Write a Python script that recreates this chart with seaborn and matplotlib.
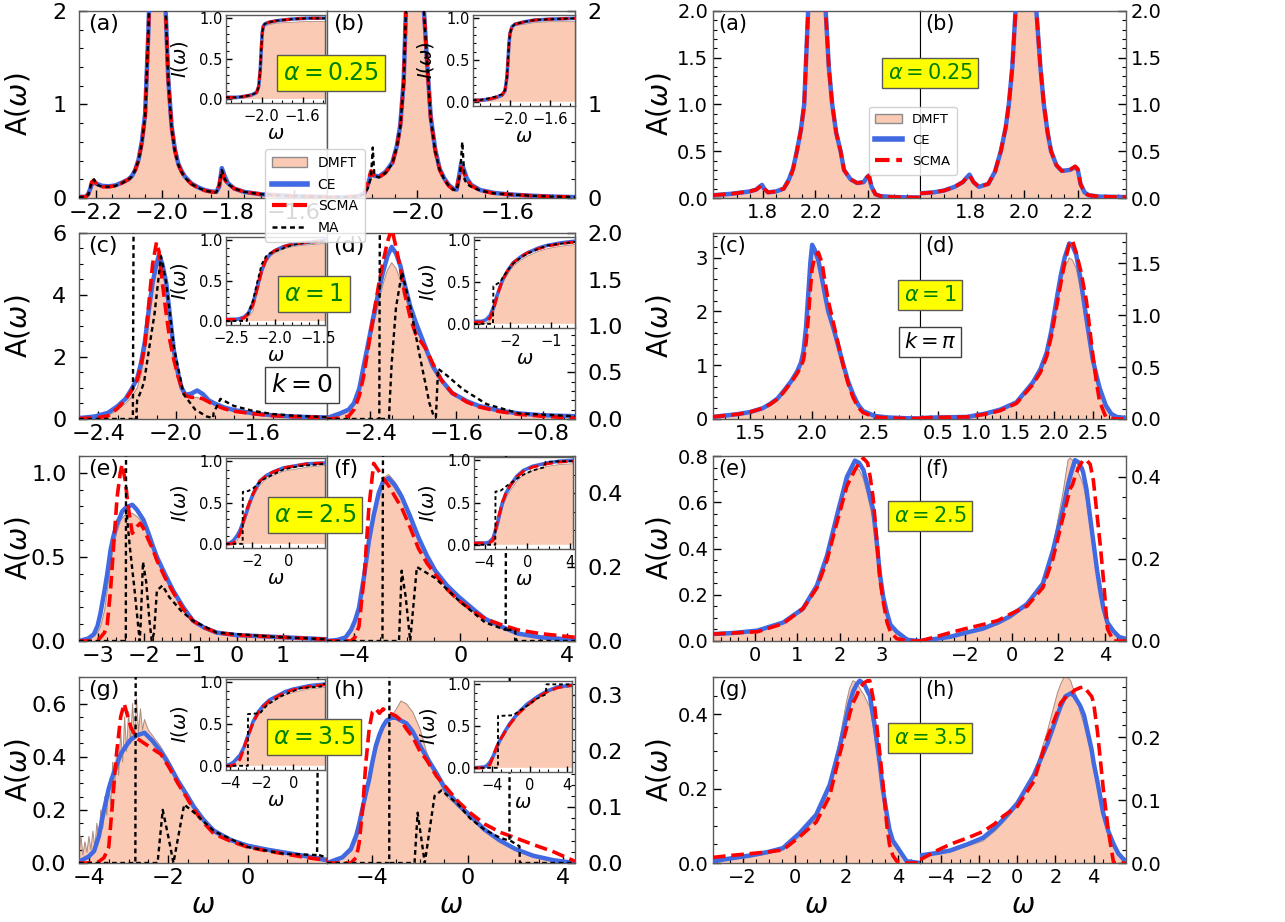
import matplotlib
matplotlib.use("Agg")
import matplotlib.pyplot as plt
import seaborn as sns
from matplotlib.ticker import AutoMinorLocator
from matplotlib.patches import Patch
from matplotlib.lines import Line2D

plt.rcParams["font.family"] = ["DejaVu Sans"]
plt.rcParams["mathtext.fontset"] = "dejavusans"

# ---------------------------------------------------------------- data: k = 0 block (left)
LA_x = [-2.25, -2.23, -2.222, -2.212, -2.205, -2.195, -2.18, -2.16, -2.14, -2.12, -2.1, -2.09, -2.08, -2.07, -2.06, -2.05, -2.04, -2.03, -2.02, -2.01, -2.0, -1.99, -1.98, -1.97, -1.96, -1.95, -1.94, -1.93, -1.91, -1.89, -1.87, -1.85, -1.835, -1.826, -1.818, -1.81, -1.8, -1.78, -1.75, -1.7, -1.65, -1.6, -1.55, -1.5]
LA_dmft = [0.01, 0.012, 0.03, 0.15, 0.18, 0.14, 0.12, 0.12, 0.13, 0.16, 0.2, 0.23, 0.3, 0.4, 0.58, 0.87, 1.8, 3.0, 4.5, 5.0, 3.8, 2.2, 1.25, 0.75, 0.5, 0.36, 0.28, 0.22, 0.15, 0.11, 0.08, 0.065, 0.06, 0.12, 0.3, 0.22, 0.15, 0.1, 0.065, 0.04, 0.03, 0.02, 0.015, 0.012]
LA_ce = [0.012, 0.014, 0.04, 0.14, 0.17, 0.15, 0.13, 0.125, 0.135, 0.165, 0.2, 0.235, 0.3, 0.41, 0.6, 0.9, 1.8, 3.0, 4.5, 5.0, 3.8, 2.2, 1.27, 0.77, 0.52, 0.37, 0.29, 0.23, 0.155, 0.115, 0.085, 0.07, 0.065, 0.12, 0.32, 0.24, 0.16, 0.1, 0.065, 0.04, 0.03, 0.02, 0.015, 0.012]
LA_scma = [0.01, 0.012, 0.04, 0.17, 0.19, 0.14, 0.12, 0.12, 0.13, 0.16, 0.2, 0.23, 0.3, 0.4, 0.59, 0.88, 1.8, 3.0, 4.5, 5.0, 3.8, 2.2, 1.26, 0.76, 0.51, 0.36, 0.28, 0.22, 0.15, 0.11, 0.08, 0.065, 0.06, 0.14, 0.29, 0.2, 0.15, 0.1, 0.065, 0.04, 0.03, 0.02, 0.015, 0.012]
LA_ma = [0.01, 0.012, 0.035, 0.16, 0.2, 0.14, 0.12, 0.12, 0.13, 0.16, 0.2, 0.23, 0.3, 0.4, 0.58, 0.87, 1.8, 3.0, 4.5, 5.0, 3.8, 2.2, 1.25, 0.75, 0.5, 0.36, 0.28, 0.22, 0.15, 0.11, 0.08, 0.065, 0.06, 0.13, 0.3, 0.21, 0.15, 0.1, 0.065, 0.04, 0.03, 0.02, 0.015, 0.012]

LB_x = [-2.4, -2.3, -2.26, -2.235, -2.22, -2.205, -2.19, -2.17, -2.14, -2.11, -2.09, -2.075, -2.06, -2.05, -2.04, -2.02, -2.01, -2.0, -1.99, -1.98, -1.97, -1.955, -1.94, -1.92, -1.9, -1.88, -1.86, -1.84, -1.825, -1.815, -1.805, -1.795, -1.78, -1.76, -1.72, -1.66, -1.6, -1.5, -1.4, -1.3]
LB_dmft = [0.005, 0.01, 0.02, 0.04, 0.12, 0.27, 0.23, 0.22, 0.27, 0.37, 0.55, 0.76, 1.23, 2.0, 3.0, 5.0, 5.5, 5.0, 4.0, 3.0, 2.0, 1.4, 0.85, 0.5, 0.3, 0.2, 0.13, 0.09, 0.08, 0.2, 0.35, 0.3, 0.2, 0.13, 0.08, 0.05, 0.04, 0.025, 0.015, 0.01]
LB_ce = [0.005, 0.01, 0.02, 0.05, 0.13, 0.26, 0.24, 0.23, 0.28, 0.38, 0.56, 0.78, 1.25, 2.0, 3.0, 5.0, 5.5, 5.0, 4.0, 3.0, 2.0, 1.42, 0.87, 0.52, 0.31, 0.21, 0.14, 0.1, 0.09, 0.22, 0.37, 0.32, 0.21, 0.14, 0.085, 0.055, 0.04, 0.025, 0.015, 0.01]
LB_scma = [0.005, 0.01, 0.02, 0.05, 0.16, 0.29, 0.23, 0.22, 0.27, 0.37, 0.55, 0.76, 1.23, 2.0, 3.0, 5.0, 5.5, 5.0, 4.0, 3.0, 2.0, 1.4, 0.85, 0.5, 0.3, 0.2, 0.13, 0.09, 0.08, 0.22, 0.33, 0.28, 0.2, 0.13, 0.08, 0.05, 0.04, 0.025, 0.015, 0.01]
LB_ma_x = [-2.4, -2.3, -2.26, -2.235, -2.22, -2.205, -2.197, -2.19, -2.17, -2.14, -2.11, -2.09, -2.075, -2.06, -2.05, -2.04, -2.02, -2.01, -2.0, -1.99, -1.98, -1.97, -1.955, -1.94, -1.92, -1.9, -1.88, -1.86, -1.84, -1.825, -1.81, -1.8, -1.79, -1.78, -1.76, -1.72, -1.66, -1.6, -1.5, -1.4, -1.3]
LB_ma = [0.005, 0.01, 0.02, 0.04, 0.1, 0.22, 0.54, 0.24, 0.22, 0.27, 0.37, 0.55, 0.76, 1.23, 2.0, 3.0, 5.0, 5.5, 5.0, 4.0, 3.0, 2.0, 1.4, 0.85, 0.5, 0.3, 0.2, 0.13, 0.09, 0.08, 0.25, 0.6, 0.2, 0.15, 0.12, 0.08, 0.05, 0.04, 0.025, 0.015, 0.01]

LC_x = [-2.5, -2.42, -2.35, -2.3, -2.26, -2.23, -2.2, -2.18, -2.16, -2.14, -2.12, -2.1, -2.087, -2.07, -2.05, -2.03, -2.01, -1.99, -1.97, -1.95, -1.92, -1.89, -1.86, -1.83, -1.8, -1.75, -1.7, -1.6, -1.5, -1.4, -1.3, -1.2]
LC_ce = [0.03, 0.08, 0.2, 0.42, 0.65, 0.95, 1.3, 1.8, 2.5, 3.5, 4.4, 5.0, 5.3, 5.0, 4.4, 3.3, 2.2, 1.5, 1.0, 0.78, 0.82, 0.92, 0.8, 0.6, 0.5, 0.37, 0.29, 0.18, 0.12, 0.08, 0.06, 0.05]
LC_scma = [0.02, 0.03, 0.1, 0.35, 0.62, 0.9, 1.25, 1.7, 2.4, 3.7, 5.0, 5.7, 5.4, 4.4, 3.4, 2.5, 1.9, 1.4, 1.0, 0.75, 0.7, 0.7, 0.65, 0.55, 0.45, 0.33, 0.25, 0.17, 0.11, 0.08, 0.06, 0.05]
LC_dmft = [0.0, 0.02, 0.1, 0.3, 0.5, 0.7, 1.0, 1.4, 2.1, 3.2, 4.3, 5.0, 5.2, 4.9, 4.2, 3.1, 2.0, 1.3, 0.9, 0.7, 0.68, 0.7, 0.62, 0.52, 0.44, 0.34, 0.27, 0.17, 0.11, 0.07, 0.05, 0.04]
LC_ma_x = [-2.5, -2.222, -2.218, -2.214, -2.205, -2.2, -2.18, -2.164, -2.13, -2.11, -2.077, -2.05, -2.01, -1.96, -1.9, -1.84, -1.808, -1.805, -1.77, -1.7, -1.6, -1.5, -1.4, -1.3, -1.2]
LC_ma = [0.0, 0.0, 7.0, 0.0, 0.0, 0.6, 0.9, 1.2, 2.6, 3.4, 5.25, 4.4, 2.3, 0.8, 0.3, 0.08, 0.03, 0.2, 0.65, 0.42, 0.26, 0.16, 0.11, 0.08, 0.05]

LD_x = [-2.8, -2.68, -2.6, -2.55, -2.5, -2.46, -2.42, -2.37, -2.32, -2.28, -2.24, -2.2, -2.16, -2.12, -2.08, -2.03, -1.98, -1.94, -1.88, -1.82, -1.74, -1.64, -1.5, -1.39, -1.2, -1.02, -0.8, -0.5]
LD_ce = [0.01, 0.06, 0.1, 0.17, 0.33, 0.57, 0.8, 1.1, 1.38, 1.58, 1.75, 1.85, 1.78, 1.65, 1.45, 1.22, 1.05, 0.93, 0.75, 0.57, 0.42, 0.28, 0.19, 0.14, 0.09, 0.06, 0.04, 0.03]
LD_scma = [0.0, 0.01, 0.03, 0.1, 0.25, 0.46, 0.75, 1.1, 1.45, 1.69, 1.9, 2.05, 1.85, 1.62, 1.35, 1.1, 0.92, 0.85, 0.75, 0.6, 0.42, 0.28, 0.18, 0.13, 0.08, 0.05, 0.03, 0.01]
LD_dmft = [0.01, 0.04, 0.08, 0.14, 0.28, 0.5, 0.72, 1.0, 1.25, 1.45, 1.6, 1.68, 1.62, 1.5, 1.33, 1.15, 0.98, 0.88, 0.71, 0.55, 0.4, 0.27, 0.18, 0.13, 0.09, 0.06, 0.04, 0.03]
LD_ma_x = [-2.8, -2.315, -2.31, -2.305, -2.225, -2.22, -2.2, -2.16, -2.105, -2.03, -1.94, -1.85, -1.81, -1.79, -1.77, -1.69, -1.54, -1.32, -1.02, -0.5]
LD_ma = [0.0, 0.0, 2.1, 0.0, 0.0, 0.15, 0.6, 1.2, 1.58, 1.22, 0.68, 0.17, 0.03, 0.02, 0.54, 0.47, 0.32, 0.16, 0.06, 0.03]

LE_x = [-3.4, -3.2, -3.08, -3.0, -2.94, -2.85, -2.79, -2.72, -2.66, -2.58, -2.51, -2.47, -2.4, -2.34, -2.25, -2.15, -2.08, -2.01, -1.9, -1.8, -1.72, -1.55, -1.37, -1.15, -0.94, -0.7, -0.43, 0.0, 0.8, 1.95]
LE_ce = [0.0, 0.015, 0.04, 0.09, 0.16, 0.3, 0.4, 0.54, 0.62, 0.7, 0.74, 0.77, 0.79, 0.8, 0.81, 0.78, 0.75, 0.72, 0.64, 0.56, 0.5, 0.4, 0.3, 0.2, 0.12, 0.08, 0.05, 0.035, 0.025, 0.01]
LE_scma = [0.0, 0.0, 0.0, 0.005, 0.02, 0.05, 0.1, 0.3, 0.54, 0.85, 1.0, 1.05, 0.95, 0.8, 0.64, 0.68, 0.7, 0.67, 0.6, 0.54, 0.48, 0.38, 0.29, 0.19, 0.12, 0.08, 0.05, 0.035, 0.025, 0.01]
LE_dmft = [0.0, 0.01, 0.03, 0.05, 0.08, 0.18, 0.3, 0.45, 0.55, 0.65, 0.71, 0.73, 0.75, 0.76, 0.76, 0.74, 0.72, 0.69, 0.62, 0.55, 0.49, 0.39, 0.29, 0.19, 0.12, 0.08, 0.05, 0.03, 0.02, 0.01]
LE_ma_x = [-3.4, -2.39, -2.385, -2.38, -2.37, -2.3, -2.2, -2.12, -2.09, -2.07, -2.02, -1.95, -1.88, -1.83, -1.78, -1.72, -1.6, -1.45, -1.2, -0.94, -0.43, 0.8, 1.95]
LE_ma = [0.0, 0.0, 1.2, 1.2, 0.75, 0.55, 0.3, 0.08, 0.0, 0.1, 0.47, 0.35, 0.12, 0.0, 0.05, 0.3, 0.33, 0.26, 0.18, 0.12, 0.05, 0.025, 0.01]

LF_x = [-5.0, -4.6, -4.3, -4.1, -3.95, -3.8, -3.6, -3.43, -3.25, -3.06, -2.9, -2.69, -2.45, -2.2, -1.9, -1.57, -1.25, -0.94, -0.5, -0.07, 0.5, 0.93, 1.5, 2.16, 3.0, 4.3]
LF_ce = [0.0, 0.003, 0.01, 0.03, 0.055, 0.09, 0.18, 0.27, 0.34, 0.4, 0.43, 0.44, 0.42, 0.39, 0.34, 0.28, 0.23, 0.19, 0.15, 0.12, 0.085, 0.06, 0.04, 0.02, 0.01, 0.003]
LF_scma = [0.0, 0.0, 0.0, 0.0, 0.01, 0.04, 0.18, 0.36, 0.48, 0.46, 0.44, 0.42, 0.39, 0.36, 0.31, 0.25, 0.21, 0.18, 0.14, 0.11, 0.08, 0.06, 0.045, 0.03, 0.02, 0.01]
LF_dmft = [0.0, 0.003, 0.01, 0.025, 0.05, 0.08, 0.17, 0.26, 0.34, 0.4, 0.44, 0.45, 0.43, 0.4, 0.34, 0.28, 0.23, 0.19, 0.15, 0.12, 0.085, 0.06, 0.04, 0.02, 0.01, 0.003]
LF_ma_x = [-5.0, -2.92, -2.9, -2.88, -2.3, -2.2, -2.05, -1.88, -1.63, -0.94, -0.07, 0.93, 1.7, 1.72, 1.74, 2.05, 2.1, 4.3]
LF_ma = [0.0, 0.0, 0.55, 0.0, 0.0, 0.19, 0.12, 0.0, 0.2, 0.17, 0.11, 0.05, 0.03, 0.6, 0.03, 0.03, 0.0, 0.0]

LG_x = [-4.25, -4.0, -3.87, -3.75, -3.62, -3.5, -3.42, -3.32, -3.2, -3.11, -3.02, -2.94, -2.8, -2.6, -2.4, -2.19, -1.98, -1.76, -1.55, -1.35, -1.1, -0.85, -0.4, 0.0, 0.5, 0.9, 1.5, 2.0]
LG_ce = [0.005, 0.025, 0.045, 0.1, 0.2, 0.28, 0.32, 0.36, 0.41, 0.43, 0.45, 0.465, 0.48, 0.49, 0.46, 0.42, 0.37, 0.31, 0.26, 0.21, 0.16, 0.12, 0.085, 0.065, 0.05, 0.04, 0.025, 0.01]
LG_scma = [0.0, 0.0, 0.0, 0.005, 0.02, 0.06, 0.2, 0.39, 0.55, 0.6, 0.55, 0.51, 0.47, 0.45, 0.43, 0.41, 0.36, 0.3, 0.25, 0.2, 0.15, 0.11, 0.08, 0.06, 0.045, 0.035, 0.02, 0.01]
LG_dmft_x = [-4.25, -4.2, -4.15, -4.1, -4.05, -4.0, -3.95, -3.9, -3.85, -3.8, -3.75, -3.7, -3.65, -3.6, -3.55, -3.5, -3.45, -3.4, -3.35, -3.3, -3.25, -3.2, -3.15, -3.1, -3.05, -3.0, -2.95, -2.9, -2.85, -2.8, -2.75, -2.7, -2.65, -2.6, -2.5, -2.4, -2.2, -2.0, -1.76, -1.55, -1.35, -1.1, -0.85, -0.4, 0.0, 0.5, 0.9, 1.5, 2.0]
LG_dmft = [0.04, 0.1, 0.03, 0.08, 0.04, 0.1, 0.05, 0.12, 0.06, 0.15, 0.09, 0.2, 0.13, 0.25, 0.18, 0.3, 0.22, 0.38, 0.28, 0.44, 0.33, 0.5, 0.38, 0.55, 0.42, 0.57, 0.45, 0.6, 0.47, 0.62, 0.49, 0.58, 0.5, 0.54, 0.5, 0.48, 0.44, 0.39, 0.32, 0.27, 0.22, 0.17, 0.13, 0.09, 0.07, 0.055, 0.045, 0.03, 0.02]
LG_ma_x = [-4.25, -2.83, -2.82, -2.81, -2.27, -2.14, -2.0, -1.87, -1.6, -1.35, -0.85, 0.0, 0.9, 1.75, 1.78, 1.8, 2.0]
LG_ma = [0.0, 0.0, 0.8, 0.0, 0.0, 0.2, 0.1, 0.0, 0.22, 0.19, 0.12, 0.06, 0.035, 0.03, 0.8, 0.03, 0.02]

LH_x = [-5.9, -5.26, -4.9, -4.67, -4.55, -4.4, -4.27, -4.13, -4.0, -3.85, -3.7, -3.55, -3.4, -3.2, -3.0, -2.8, -2.57, -2.3, -2.0, -1.73, -1.3, -0.9, -0.4, 0.1, 0.7, 1.36, 2.0, 2.75, 3.6, 4.5]
LH_ce = [0.0, 0.01, 0.025, 0.05, 0.07, 0.1, 0.125, 0.15, 0.18, 0.21, 0.23, 0.245, 0.255, 0.26, 0.26, 0.255, 0.25, 0.235, 0.21, 0.19, 0.16, 0.13, 0.105, 0.085, 0.06, 0.04, 0.025, 0.013, 0.005, 0.0]
LH_scma = [0.0, 0.0, 0.0, 0.01, 0.036, 0.1, 0.18, 0.24, 0.27, 0.276, 0.268, 0.276, 0.27, 0.267, 0.263, 0.255, 0.24, 0.225, 0.2, 0.185, 0.155, 0.135, 0.11, 0.09, 0.07, 0.055, 0.045, 0.033, 0.02, 0.003]
LH_dmft = [0.0, 0.01, 0.02, 0.04, 0.06, 0.09, 0.115, 0.14, 0.17, 0.2, 0.22, 0.24, 0.25, 0.262, 0.275, 0.29, 0.285, 0.27, 0.24, 0.2, 0.155, 0.12, 0.1, 0.08, 0.06, 0.04, 0.025, 0.015, 0.006, 0.0]
LH_ma_x = [-5.9, -3.29, -3.28, -3.27, -2.23, -2.1, -1.8, -1.39, -1.1, -0.4, 0.1, 0.7, 1.36, 1.75, 1.77, 1.79, 2.17, 2.19, 4.5]
LH_ma = [0.0, 0.0, 0.4, 0.0, 0.0, 0.09, 0.0, 0.12, 0.13, 0.105, 0.08, 0.06, 0.045, 0.04, 0.5, 0.04, 0.03, 0.0, 0.0]

# ---------------------------------------------------------------- insets I(omega), k = 0 block
IA_x = [-2.35, -2.25, -2.18, -2.1, -2.05, -2.03, -2.015, -2.005, -1.995, -1.985, -1.97, -1.93, -1.85, -1.7, -1.55, -1.38]
IA_ce = [0.02, 0.02, 0.03, 0.05, 0.08, 0.15, 0.35, 0.6, 0.82, 0.9, 0.93, 0.95, 0.97, 0.99, 1.0, 1.0]
IA_scma = [0.02, 0.02, 0.03, 0.05, 0.08, 0.16, 0.36, 0.61, 0.82, 0.9, 0.93, 0.95, 0.97, 0.99, 1.0, 1.0]
IA_dmft = [0.0, 0.0, 0.01, 0.03, 0.06, 0.13, 0.33, 0.58, 0.8, 0.87, 0.9, 0.92, 0.94, 0.95, 0.96, 0.96]
IA_ma = [0.02, 0.02, 0.03, 0.05, 0.08, 0.15, 0.35, 0.6, 0.82, 0.9, 0.93, 0.95, 0.97, 0.99, 1.0, 1.0]

IB_x = [-2.37, -2.3, -2.22, -2.15, -2.08, -2.05, -2.03, -2.02, -2.01, -2.0, -1.98, -1.95, -1.85, -1.75, -1.6, -1.35]
IB_ce = [0.02, 0.02, 0.03, 0.05, 0.08, 0.13, 0.3, 0.5, 0.7, 0.82, 0.9, 0.93, 0.96, 0.98, 0.99, 1.0]
IB_scma = [0.02, 0.02, 0.03, 0.05, 0.08, 0.14, 0.31, 0.5, 0.7, 0.82, 0.9, 0.93, 0.96, 0.98, 0.99, 1.0]
IB_dmft = [0.0, 0.0, 0.01, 0.03, 0.06, 0.11, 0.28, 0.48, 0.68, 0.8, 0.88, 0.91, 0.93, 0.95, 0.96, 0.96]
IB_ma = [0.02, 0.02, 0.04, 0.06, 0.09, 0.14, 0.3, 0.5, 0.7, 0.82, 0.9, 0.93, 0.96, 0.98, 0.99, 1.0]

IC_x = [-2.56, -2.45, -2.4, -2.35, -2.3, -2.25, -2.2, -2.15, -2.1, -2.05, -2.0, -1.9, -1.8, -1.65, -1.42]
IC_ce = [0.02, 0.02, 0.03, 0.05, 0.1, 0.22, 0.42, 0.62, 0.76, 0.83, 0.87, 0.92, 0.95, 0.97, 1.0]
IC_scma = [0.02, 0.02, 0.02, 0.04, 0.09, 0.2, 0.4, 0.62, 0.76, 0.83, 0.87, 0.92, 0.95, 0.97, 0.99]
IC_dmft = [0.0, 0.0, 0.01, 0.02, 0.05, 0.12, 0.35, 0.58, 0.72, 0.8, 0.84, 0.89, 0.92, 0.94, 0.96]
IC_ma_x = [-2.56, -2.32, -2.31, -2.25, -2.2, -2.15, -2.1, -2.05, -2.0, -1.9, -1.8, -1.65, -1.42]
IC_ma = [0.0, 0.0, 0.08, 0.25, 0.48, 0.7, 0.8, 0.84, 0.86, 0.9, 0.94, 0.97, 0.99]

ID_x = [-2.9, -2.7, -2.6, -2.5, -2.4, -2.33, -2.25, -2.18, -2.05, -1.93, -1.75, -1.58, -1.3, -1.08, -0.75, -0.4]
ID_ce = [0.03, 0.03, 0.05, 0.1, 0.22, 0.34, 0.45, 0.54, 0.65, 0.73, 0.8, 0.85, 0.91, 0.94, 0.97, 0.99]
ID_scma = [0.02, 0.02, 0.03, 0.07, 0.2, 0.33, 0.45, 0.54, 0.65, 0.73, 0.8, 0.85, 0.9, 0.93, 0.96, 0.98]
ID_dmft = [0.0, 0.0, 0.01, 0.04, 0.15, 0.29, 0.41, 0.5, 0.61, 0.69, 0.76, 0.81, 0.87, 0.9, 0.93, 0.95]
ID_ma_x = [-2.9, -2.43, -2.42, -2.37, -2.33, -2.25, -2.18, -2.05, -1.93, -1.75, -1.58, -1.3, -1.08, -0.75, -0.4]
ID_ma = [0.0, 0.0, 0.45, 0.46, 0.48, 0.5, 0.56, 0.65, 0.72, 0.79, 0.84, 0.9, 0.94, 0.96, 0.98]

IE_x = [-3.4, -3.2, -3.0, -2.8, -2.65, -2.45, -2.27, -2.1, -1.95, -1.75, -1.57, -1.2, -0.86, -0.3, 0.22, 1.0, 1.95]
IE_ce = [0.0, 0.01, 0.04, 0.1, 0.16, 0.28, 0.4, 0.51, 0.6, 0.69, 0.76, 0.83, 0.87, 0.92, 0.94, 0.97, 0.98]
IE_scma = [0.0, 0.0, 0.01, 0.05, 0.12, 0.28, 0.42, 0.52, 0.6, 0.69, 0.76, 0.83, 0.87, 0.92, 0.94, 0.97, 0.98]
IE_dmft = [0.0, 0.0, 0.01, 0.04, 0.1, 0.22, 0.34, 0.46, 0.55, 0.64, 0.71, 0.79, 0.83, 0.88, 0.9, 0.93, 0.95]
IE_ma_x = [-3.4, -2.5, -2.49, -2.2, -1.95, -1.4, -0.3, 0.5, 1.95]
IE_ma = [0.0, 0.0, 0.63, 0.64, 0.67, 0.78, 0.9, 0.94, 0.97]

IF_x = [-5.0, -4.0, -3.6, -3.2, -2.8, -2.35, -2.0, -1.6, -1.0, -0.37, 0.5, 1.9, 3.0, 4.3]
IF_ce = [0.02, 0.02, 0.03, 0.08, 0.25, 0.49, 0.61, 0.7, 0.81, 0.88, 0.93, 0.97, 0.99, 1.0]
IF_scma = [0.02, 0.02, 0.02, 0.05, 0.28, 0.5, 0.61, 0.7, 0.8, 0.87, 0.92, 0.96, 0.98, 0.99]
IF_dmft = [0.0, 0.0, 0.01, 0.05, 0.2, 0.43, 0.55, 0.64, 0.75, 0.83, 0.88, 0.93, 0.95, 0.96]
IF_ma_x = [-5.0, -3.0, -2.98, -2.5, -1.9, -1.0, -0.37, 0.5, 1.65, 1.72, 3.0, 4.3]
IF_ma = [0.0, 0.0, 0.63, 0.64, 0.7, 0.78, 0.83, 0.88, 0.92, 0.98, 0.99, 0.99]

IG_x = [-4.25, -4.0, -3.8, -3.6, -3.36, -3.1, -2.92, -2.7, -2.54, -2.2, -1.9, -1.5, -1.0, -0.5, 0.0, 1.0, 2.0]
IG_ce = [0.0, 0.02, 0.04, 0.08, 0.13, 0.23, 0.33, 0.44, 0.53, 0.65, 0.72, 0.79, 0.84, 0.89, 0.92, 0.96, 0.98]
IG_scma = [0.0, 0.0, 0.01, 0.02, 0.08, 0.22, 0.33, 0.44, 0.52, 0.64, 0.71, 0.78, 0.83, 0.88, 0.91, 0.95, 0.97]
IG_dmft = [0.0, 0.01, 0.03, 0.06, 0.11, 0.2, 0.3, 0.41, 0.5, 0.61, 0.68, 0.75, 0.8, 0.85, 0.88, 0.92, 0.94]
IG_ma_x = [-4.25, -2.87, -2.86, -2.1, -1.65, -0.83, 0.44, 1.75, 1.8, 2.0]
IG_ma = [0.0, 0.0, 0.62, 0.63, 0.73, 0.83, 0.93, 0.95, 0.98, 0.98]

IH_x = [-5.9, -4.8, -4.5, -4.2, -3.9, -3.5, -3.15, -2.6, -2.1, -1.2, -0.3, 0.8, 1.85, 3.0, 4.5]
IH_ce = [0.0, 0.01, 0.03, 0.07, 0.13, 0.24, 0.33, 0.44, 0.53, 0.66, 0.76, 0.85, 0.92, 0.97, 0.99]
IH_scma = [0.0, 0.0, 0.01, 0.04, 0.13, 0.25, 0.33, 0.43, 0.52, 0.65, 0.74, 0.84, 0.91, 0.96, 0.99]
IH_dmft = [0.0, 0.01, 0.03, 0.06, 0.12, 0.22, 0.31, 0.43, 0.52, 0.65, 0.74, 0.83, 0.9, 0.95, 0.97]
IH_ma_x = [-5.9, -3.36, -3.35, -1.75, -0.3, 0.8, 1.7, 1.8, 4.5]
IH_ma = [0.0, 0.0, 0.62, 0.63, 0.74, 0.83, 0.88, 1.0, 1.0]

# ---------------------------------------------------------------- data: k = pi block (right)
RA_x = [1.61, 1.68, 1.75, 1.775, 1.788, 1.797, 1.805, 1.82, 1.85, 1.88, 1.9, 1.915, 1.93, 1.945, 1.958, 1.973, 1.985, 1.995, 2.005, 2.015, 2.025, 2.04, 2.052, 2.065, 2.08, 2.097, 2.11, 2.135, 2.16, 2.185, 2.197, 2.205, 2.215, 2.23, 2.25, 2.3, 2.4]
RA_dmft = [0.03, 0.045, 0.07, 0.09, 0.12, 0.14, 0.1, 0.06, 0.07, 0.1, 0.19, 0.3, 0.5, 0.72, 1.0, 2.0, 3.2, 4.5, 5.0, 4.5, 3.3, 2.0, 1.4, 1.0, 0.7, 0.5, 0.3, 0.2, 0.16, 0.17, 0.22, 0.24, 0.12, 0.04, 0.02, 0.01, 0.005]
RA_ce = [0.03, 0.045, 0.07, 0.09, 0.12, 0.14, 0.1, 0.06, 0.07, 0.1, 0.2, 0.31, 0.5, 0.72, 1.0, 2.0, 3.2, 4.5, 5.0, 4.5, 3.3, 2.0, 1.4, 1.0, 0.7, 0.5, 0.3, 0.2, 0.16, 0.17, 0.22, 0.24, 0.12, 0.04, 0.02, 0.01, 0.005]
RA_scma = [0.03, 0.045, 0.07, 0.09, 0.12, 0.14, 0.1, 0.06, 0.07, 0.1, 0.19, 0.3, 0.5, 0.72, 1.0, 2.0, 3.2, 4.5, 5.0, 4.5, 3.3, 2.0, 1.4, 1.0, 0.7, 0.5, 0.3, 0.2, 0.16, 0.17, 0.22, 0.24, 0.12, 0.04, 0.02, 0.01, 0.005]

RB_x = [1.61, 1.66, 1.7, 1.74, 1.77, 1.785, 1.795, 1.81, 1.83, 1.865, 1.89, 1.912, 1.93, 1.942, 1.955, 1.967, 1.98, 1.995, 2.006, 2.02, 2.035, 2.045, 2.06, 2.073, 2.087, 2.1, 2.12, 2.14, 2.17, 2.19, 2.2, 2.21, 2.225, 2.24, 2.28, 2.38]
RB_dmft = [0.05, 0.06, 0.08, 0.12, 0.17, 0.22, 0.24, 0.17, 0.12, 0.15, 0.28, 0.5, 0.75, 1.0, 1.4, 2.0, 2.9, 4.0, 4.5, 3.8, 2.6, 2.0, 1.4, 1.0, 0.7, 0.5, 0.35, 0.29, 0.3, 0.33, 0.3, 0.15, 0.06, 0.03, 0.015, 0.01]
RB_ce = [0.05, 0.06, 0.08, 0.12, 0.17, 0.22, 0.25, 0.17, 0.12, 0.15, 0.28, 0.5, 0.75, 1.0, 1.4, 2.0, 2.9, 4.0, 4.5, 3.8, 2.6, 2.0, 1.4, 1.0, 0.7, 0.5, 0.35, 0.29, 0.3, 0.33, 0.3, 0.15, 0.06, 0.03, 0.015, 0.01]
RB_scma = [0.05, 0.06, 0.08, 0.12, 0.17, 0.22, 0.24, 0.17, 0.12, 0.15, 0.28, 0.5, 0.75, 1.0, 1.4, 2.0, 2.9, 4.0, 4.5, 3.8, 2.6, 2.0, 1.4, 1.0, 0.7, 0.5, 0.35, 0.29, 0.3, 0.34, 0.31, 0.15, 0.06, 0.03, 0.015, 0.01]

RC_x = [1.2, 1.4, 1.5, 1.6, 1.66, 1.72, 1.77, 1.83, 1.88, 1.91, 1.93, 1.95, 1.97, 1.985, 2.0, 2.02, 2.05, 2.08, 2.1, 2.13, 2.17, 2.2, 2.25, 2.29, 2.33, 2.37, 2.41, 2.5, 2.6, 2.75, 2.87]
RC_ce = [0.04, 0.09, 0.13, 0.2, 0.28, 0.38, 0.52, 0.7, 0.89, 1.05, 1.26, 1.7, 2.37, 2.9, 3.24, 3.15, 2.95, 2.6, 2.35, 2.0, 1.7, 1.45, 1.02, 0.7, 0.46, 0.27, 0.15, 0.06, 0.03, 0.015, 0.01]
RC_scma = [0.04, 0.09, 0.13, 0.2, 0.27, 0.37, 0.5, 0.68, 0.85, 0.98, 1.1, 1.4, 1.9, 2.4, 2.8, 3.0, 3.1, 2.9, 2.6, 2.2, 1.8, 1.5, 1.0, 0.66, 0.4, 0.22, 0.12, 0.04, 0.02, 0.01, 0.01]
RC_dmft = [0.04, 0.09, 0.13, 0.2, 0.27, 0.37, 0.5, 0.68, 0.86, 1.0, 1.2, 1.6, 2.2, 2.75, 3.05, 3.1, 2.9, 2.55, 2.3, 1.95, 1.65, 1.4, 0.98, 0.66, 0.43, 0.25, 0.13, 0.05, 0.025, 0.012, 0.01]

RD_x = [0.27, 0.5, 0.87, 1.1, 1.3, 1.51, 1.72, 1.82, 1.9, 1.96, 2.02, 2.08, 2.13, 2.19, 2.23, 2.28, 2.34, 2.41, 2.49, 2.54, 2.58, 2.66, 2.73, 2.8, 2.92]
RD_ce = [0.01, 0.015, 0.02, 0.05, 0.09, 0.16, 0.35, 0.48, 0.64, 0.85, 1.12, 1.38, 1.55, 1.69, 1.67, 1.58, 1.33, 0.97, 0.58, 0.42, 0.3, 0.13, 0.05, 0.02, 0.01]
RD_scma = [0.01, 0.015, 0.02, 0.045, 0.08, 0.15, 0.33, 0.45, 0.6, 0.8, 1.05, 1.3, 1.5, 1.68, 1.72, 1.6, 1.42, 1.14, 0.64, 0.35, 0.17, 0.02, 0.005, 0.0, 0.0]
RD_dmft = [0.01, 0.015, 0.02, 0.045, 0.08, 0.15, 0.33, 0.46, 0.62, 0.82, 1.08, 1.3, 1.45, 1.55, 1.53, 1.45, 1.22, 0.88, 0.52, 0.37, 0.26, 0.11, 0.04, 0.02, 0.01]

RE_x = [-1.0, -0.5, 0.05, 0.66, 1.13, 1.46, 1.7, 1.93, 2.17, 2.36, 2.46, 2.56, 2.66, 2.72, 2.79, 2.88, 2.95, 3.03, 3.12, 3.2, 3.35, 3.6, 3.9]
RE_ce = [0.03, 0.035, 0.045, 0.08, 0.14, 0.24, 0.37, 0.54, 0.71, 0.78, 0.77, 0.74, 0.67, 0.62, 0.57, 0.42, 0.29, 0.19, 0.12, 0.07, 0.04, 0.005, 0.0]
RE_scma = [0.03, 0.035, 0.04, 0.075, 0.14, 0.23, 0.35, 0.51, 0.67, 0.74, 0.77, 0.79, 0.77, 0.71, 0.62, 0.43, 0.27, 0.17, 0.08, 0.04, 0.01, 0.0, 0.0]
RE_dmft = [0.03, 0.035, 0.04, 0.075, 0.13, 0.23, 0.36, 0.53, 0.69, 0.75, 0.74, 0.7, 0.63, 0.58, 0.52, 0.38, 0.27, 0.17, 0.1, 0.06, 0.03, 0.005, 0.0]

RF_x = [-3.95, -3.3, -2.67, -2.0, -1.25, -0.6, -0.09, 0.65, 1.33, 1.76, 2.19, 2.41, 2.5, 2.6, 2.71, 2.85, 3.0, 3.06, 3.2, 3.36, 3.5, 3.65, 3.8, 3.93, 4.1, 4.36, 4.6, 4.9]
RF_ce = [0.0, 0.005, 0.01, 0.02, 0.03, 0.045, 0.06, 0.09, 0.14, 0.22, 0.32, 0.38, 0.4, 0.42, 0.44, 0.435, 0.42, 0.41, 0.37, 0.3, 0.24, 0.175, 0.12, 0.08, 0.045, 0.024, 0.01, 0.005]
RF_scma = [0.0, 0.01, 0.02, 0.03, 0.04, 0.05, 0.065, 0.085, 0.13, 0.2, 0.3, 0.35, 0.37, 0.38, 0.4, 0.42, 0.435, 0.44, 0.44, 0.43, 0.39, 0.31, 0.23, 0.15, 0.03, 0.0, 0.0, 0.0]
RF_dmft = [0.0, 0.005, 0.01, 0.02, 0.03, 0.04, 0.055, 0.085, 0.14, 0.23, 0.36, 0.44, 0.445, 0.44, 0.43, 0.41, 0.39, 0.38, 0.34, 0.28, 0.22, 0.16, 0.11, 0.07, 0.04, 0.02, 0.01, 0.005]

RG_x = [-3.15, -2.5, -1.74, -1.0, -0.45, 0.19, 0.84, 1.36, 1.74, 2.0, 2.13, 2.26, 2.4, 2.52, 2.7, 2.83, 2.91, 3.1, 3.29, 3.41, 3.57, 3.67, 3.8, 3.95, 4.33, 4.85]
RG_ce = [0.005, 0.012, 0.02, 0.03, 0.04, 0.08, 0.13, 0.21, 0.31, 0.39, 0.43, 0.46, 0.48, 0.49, 0.48, 0.46, 0.45, 0.37, 0.27, 0.2, 0.13, 0.09, 0.06, 0.045, 0.005, 0.0]
RG_scma = [0.015, 0.02, 0.025, 0.03, 0.035, 0.07, 0.11, 0.18, 0.29, 0.36, 0.4, 0.43, 0.45, 0.47, 0.485, 0.49, 0.49, 0.42, 0.3, 0.22, 0.1, 0.05, 0.02, 0.005, 0.0, 0.0]
RG_dmft = [0.005, 0.01, 0.015, 0.025, 0.035, 0.07, 0.12, 0.21, 0.33, 0.43, 0.47, 0.49, 0.485, 0.47, 0.45, 0.43, 0.42, 0.34, 0.25, 0.19, 0.12, 0.08, 0.05, 0.04, 0.005, 0.0]

RH_x = [-5.1, -4.2, -3.5, -2.6, -1.8, -1.2, -0.72, 0.0, 0.87, 1.58, 2.1, 2.28, 2.52, 2.8, 2.9, 3.0, 3.3, 3.5, 3.9, 4.0, 4.2, 4.47, 4.5, 4.78, 5.05, 5.3, 5.6, 5.7]
RH_ce = [0.012, 0.016, 0.02, 0.03, 0.04, 0.055, 0.07, 0.095, 0.14, 0.19, 0.235, 0.25, 0.265, 0.27, 0.268, 0.265, 0.25, 0.235, 0.18, 0.16, 0.13, 0.085, 0.08, 0.05, 0.03, 0.015, 0.005, 0.004]
RH_scma = [0.005, 0.02, 0.03, 0.04, 0.05, 0.062, 0.075, 0.09, 0.13, 0.2, 0.24, 0.255, 0.263, 0.27, 0.272, 0.275, 0.279, 0.28, 0.265, 0.255, 0.21, 0.13, 0.12, 0.05, 0.0, 0.0, 0.0, 0.0]
RH_dmft = [0.01, 0.014, 0.018, 0.027, 0.035, 0.05, 0.065, 0.09, 0.14, 0.21, 0.27, 0.285, 0.3, 0.29, 0.28, 0.275, 0.24, 0.22, 0.17, 0.15, 0.12, 0.08, 0.075, 0.045, 0.025, 0.012, 0.005, 0.004]

# ---------------------------------------------------------------- labels
LEFT_LABELS = ["(a)", "(b)", "(c)", "(d)", "(e)", "(f)", "(g)", "(h)"]
ALPHAS = ["0.25", "1", "2.5", "3.5"]
LEGEND_LEFT = ["DMFT", "CE", "SCMA", "MA"]
LEGEND_RIGHT = ["DMFT", "CE", "SCMA"]

# ---------------------------------------------------------------- style
PEACH = "#fbcab4"
EDGE = "#a88c80"
BLUE = "#4169e1"
RED = "#ff0000"
SPINE = "#5a5a5a"
RED_LS = (0, (3.5, 1.6))
MA_LS = (0, (2.0, 1.5))

W, H = 1285, 922
fig = plt.figure(figsize=(W / 100, H / 100), dpi=100)


def frect(x0, y0, x1, y1):
    return [x0 / W, 1 - y1 / H, (x1 - x0) / W, (y1 - y0) / H]


errors = []


def check(tag, a, b):
    if a is not None and len(a) != len(b):
        errors.append(f"{tag}: {len(a)} vs {len(b)}")


def spike_units(x, y, ymax, xrange_):
    # split a curve after a clipped narrow spike so that its return stroke is not
    # drawn on top of the rising stroke (keeps the dotted look of a single line)
    units, u = [], 0
    for i in range(len(x)):
        units.append(u)
        if (i + 1 < len(x) and y[i] > ymax and y[i + 1] < y[i]
                and (x[i + 1] - x[i]) < 0.012 * xrange_):
            u += 1
    return units


def draw(ax, x, dmft, ce, scma, xlim, ylim, ma_x=None, ma=None, dmft_x=None, s=1.0, tag=""):
    dx = x if dmft_x is None else dmft_x
    check(tag + " dmft", dx, dmft)
    check(tag + " ce", x, ce)
    check(tag + " scma", x, scma)
    if ma is not None:
        check(tag + " ma", ma_x, ma)
    if errors:
        return
    ax.fill_between(dx, 0, dmft, facecolor=PEACH, edgecolor="none", zorder=1)
    common = dict(ax=ax, estimator=None, sort=False, legend=False)
    sns.lineplot(x=dx, y=dmft, color=EDGE, lw=0.7 * s, zorder=2, **common)
    sns.lineplot(x=x, y=ce, color=BLUE, lw=3.2 * s, zorder=3, **common)
    sns.lineplot(x=x, y=scma, color=RED, lw=2.6 * s, linestyle=RED_LS, zorder=4, **common)
    if ma is not None:
        units = spike_units(ma_x, ma, ylim[1], xlim[1] - xlim[0])
        sns.lineplot(x=ma_x, y=ma, units=units, color="black", lw=1.7 * s,
                     linestyle=MA_LS, zorder=5, **common)
    ax.set_xlabel("")
    ax.set_ylabel("")


def style(ax, xlim, ylim, xticks, yticks, side, fs, ypad=3.5, minor=True):
    ax.set_xlim(xlim)
    ax.set_ylim(ylim)
    ax.set_xticks(xticks)
    ax.set_yticks(yticks)
    if minor:
        ax.xaxis.set_minor_locator(AutoMinorLocator())
        ax.yaxis.set_minor_locator(AutoMinorLocator())
    if side == "right":
        ax.yaxis.tick_right()
    ax.tick_params(which="both", direction="in", labelsize=fs, top=False,
                   left=(side == "left"), right=(side == "right"),
                   labelleft=(side == "left"), labelright=(side == "right"))
    ax.tick_params(which="major", length=6, width=1)
    ax.tick_params(which="minor", length=3, width=0.8)
    ax.tick_params(axis="y", which="both", pad=ypad)
    for sp in ax.spines.values():
        sp.set_color(SPINE)
        sp.set_linewidth(1.0)


ROWS = [(11, 198), (233, 419), (456, 641), (677, 863)]
LCOLS = [(79, 327), (327, 575)]
RCOLS = [(713, 920), (920, 1126)]

left_panels = [
    dict(x=LA_x, dmft=LA_dmft, ce=LA_ce, scma=LA_scma, ma_x=LA_x, ma=LA_ma,
         xlim=(-2.25, -1.5), ylim=(0, 2), xt=[-2.2, -2.0, -1.8, -1.6], yt=[0, 1, 2]),
    dict(x=LB_x, dmft=LB_dmft, ce=LB_ce, scma=LB_scma, ma_x=LB_ma_x, ma=LB_ma,
         xlim=(-2.4, -1.3), ylim=(0, 2), xt=[-2.0, -1.6], yt=[0, 1, 2]),
    dict(x=LC_x, dmft=LC_dmft, ce=LC_ce, scma=LC_scma, ma_x=LC_ma_x, ma=LC_ma,
         xlim=(-2.5, -1.22), ylim=(0, 6), xt=[-2.4, -2.0, -1.6], yt=[0, 2, 4, 6]),
    dict(x=LD_x, dmft=LD_dmft, ce=LD_ce, scma=LD_scma, ma_x=LD_ma_x, ma=LD_ma,
         xlim=(-2.8, -0.5), ylim=(0, 2), xt=[-2.4, -1.6, -0.8], yt=[0, 0.5, 1.0, 1.5, 2.0]),
    dict(x=LE_x, dmft=LE_dmft, ce=LE_ce, scma=LE_scma, ma_x=LE_ma_x, ma=LE_ma,
         xlim=(-3.4, 1.95), ylim=(0, 1.1), xt=[-3, -2, -1, 0, 1], yt=[0.0, 0.5, 1.0]),
    dict(x=LF_x, dmft=LF_dmft, ce=LF_ce, scma=LF_scma, ma_x=LF_ma_x, ma=LF_ma,
         xlim=(-5.0, 4.3), ylim=(0, 0.5), xt=[-4, 0, 4], yt=[0.0, 0.2, 0.4]),
    dict(x=LG_x, dmft=LG_dmft, ce=LG_ce, scma=LG_scma, ma_x=LG_ma_x, ma=LG_ma, dmft_x=LG_dmft_x,
         xlim=(-4.25, 2.0), ylim=(0, 0.7), xt=[-4, -2, 0], yt=[0.0, 0.2, 0.4, 0.6]),
    dict(x=LH_x, dmft=LH_dmft, ce=LH_ce, scma=LH_scma, ma_x=LH_ma_x, ma=LH_ma,
         xlim=(-5.9, 4.5), ylim=(0, 0.333), xt=[-4, 0, 4], yt=[0.0, 0.1, 0.2, 0.3]),
]

insets = [
    dict(rect=(226, 15, 325, 103), x=IA_x, dmft=IA_dmft, ce=IA_ce, scma=IA_scma, ma_x=IA_x, ma=IA_ma,
         xlim=(-2.35, -1.38), xt=[-2.0, -1.6]),
    dict(rect=(473, 15, 575, 106), x=IB_x, dmft=IB_dmft, ce=IB_ce, scma=IB_scma, ma_x=IB_x, ma=IB_ma,
         xlim=(-2.37, -1.35), xt=[-2.0, -1.6]),
    dict(rect=(226, 237, 325, 325), x=IC_x, dmft=IC_dmft, ce=IC_ce, scma=IC_scma, ma_x=IC_ma_x, ma=IC_ma,
         xlim=(-2.56, -1.42), xt=[-2.5, -2.0, -1.5]),
    dict(rect=(474, 237, 575, 328), x=ID_x, dmft=ID_dmft, ce=ID_ce, scma=ID_scma, ma_x=ID_ma_x, ma=ID_ma,
         xlim=(-2.9, -0.4), xt=[-2, -1]),
    dict(rect=(226, 458, 325, 548), x=IE_x, dmft=IE_dmft, ce=IE_ce, scma=IE_scma, ma_x=IE_ma_x, ma=IE_ma,
         xlim=(-3.4, 1.95), xt=[-2, 0]),
    dict(rect=(474, 457, 573, 549), x=IF_x, dmft=IF_dmft, ce=IF_ce, scma=IF_scma, ma_x=IF_ma_x, ma=IF_ma,
         xlim=(-5.0, 4.3), xt=[-4, 0, 4]),
    dict(rect=(226, 679, 325, 770), x=IG_x, dmft=IG_dmft, ce=IG_ce, scma=IG_scma, ma_x=IG_ma_x, ma=IG_ma,
         xlim=(-4.25, 2.0), xt=[-4, -2, 0]),
    dict(rect=(474, 681, 572, 772), x=IH_x, dmft=IH_dmft, ce=IH_ce, scma=IH_scma, ma_x=IH_ma_x, ma=IH_ma,
         xlim=(-5.9, 4.5), xt=[-4, 0, 4]),
]

right_panels = [
    dict(x=RA_x, dmft=RA_dmft, ce=RA_ce, scma=RA_scma, xlim=(1.61, 2.4), ylim=(0, 2),
         xt=[1.8, 2.0, 2.2], yt=[0, 0.5, 1.0, 1.5, 2.0]),
    dict(x=RB_x, dmft=RB_dmft, ce=RB_ce, scma=RB_scma, xlim=(1.61, 2.38), ylim=(0, 2),
         xt=[1.8, 2.0, 2.2], yt=[0, 0.5, 1.0, 1.5, 2.0]),
    dict(x=RC_x, dmft=RC_dmft, ce=RC_ce, scma=RC_scma, xlim=(1.2, 2.87), ylim=(0, 3.46),
         xt=[1.5, 2.0, 2.5], yt=[0, 1, 2, 3]),
    dict(x=RD_x, dmft=RD_dmft, ce=RD_ce, scma=RD_scma, xlim=(0.27, 2.92), ylim=(0, 1.79),
         xt=[0.5, 1.0, 1.5, 2.0, 2.5], yt=[0.0, 0.5, 1.0, 1.5]),
    dict(x=RE_x, dmft=RE_dmft, ce=RE_ce, scma=RE_scma, xlim=(-1.0, 3.9), ylim=(0, 0.8),
         xt=[0, 1, 2, 3], yt=[0.0, 0.2, 0.4, 0.6, 0.8]),
    dict(x=RF_x, dmft=RF_dmft, ce=RF_ce, scma=RF_scma, xlim=(-3.95, 4.9), ylim=(0, 0.45),
         xt=[-2, 0, 2, 4], yt=[0.0, 0.2, 0.4]),
    dict(x=RG_x, dmft=RG_dmft, ce=RG_ce, scma=RG_scma, xlim=(-3.15, 4.85), ylim=(0, 0.5),
         xt=[-2, 0, 2, 4], yt=[0.0, 0.2, 0.4]),
    dict(x=RH_x, dmft=RH_dmft, ce=RH_ce, scma=RH_scma, xlim=(-5.1, 5.7), ylim=(0, 0.296),
         xt=[-4, -2, 0, 2, 4], yt=[0.0, 0.1, 0.2]),
]

# ---------------------------------------------------------------- left block (k = 0)
for i, p in enumerate(left_panels):
    r, c = divmod(i, 2)
    (x0, x1), (y0, y1) = LCOLS[c], ROWS[r]
    ax = fig.add_axes(frect(x0, y0, x1, y1))
    draw(ax, p["x"], p["dmft"], p["ce"], p["scma"], p["xlim"], p["ylim"],
         p["ma_x"], p["ma"], p.get("dmft_x"), tag=f"L{i}")
    style(ax, p["xlim"], p["ylim"], p["xt"], p["yt"], "left" if c == 0 else "right", 16, ypad=9)
    ax.text(0.035 if c == 0 else 0.025, 0.985, LEFT_LABELS[i], transform=ax.transAxes,
            ha="left", va="top", fontsize=16, zorder=10)
    if c == 0:
        ax.set_ylabel(r"$\mathrm{A}(\omega)$", fontsize=20)
        ax.yaxis.set_label_coords(-0.187, 0.5)
    if r == 3:
        ax.set_xlabel(r"$\omega$", fontsize=20)
        ax.xaxis.set_label_coords(0.5, -0.15)

for j, p in enumerate(insets):
    ia = fig.add_axes(frect(*p["rect"]))
    ylim_i = (-0.05, 1.04)
    draw(ia, p["x"], p["dmft"], p["ce"], p["scma"], p["xlim"], ylim_i,
         p["ma_x"], p["ma"], s=0.8, tag=f"I{j}")
    style(ia, p["xlim"], ylim_i, p["xt"], [0.0, 0.5, 1.0], "left", 10.5, ypad=2.5)
    ia.set_yticklabels(["0.0", "0.5", "1.0"])
    ia.tick_params(which="major", length=4)
    ia.tick_params(axis="x", which="both", pad=4)
    ia.tick_params(which="minor", length=2)
    ia.set_xlabel(r"$\omega$", fontsize=14, labelpad=0)
    ia.set_ylabel(r"$I(\omega)$", fontsize=14)
    ia.yaxis.set_label_coords(-0.36, 0.5)

# ---------------------------------------------------------------- right block (k = pi)
for i, p in enumerate(right_panels):
    r, c = divmod(i, 2)
    (x0, x1), (y0, y1) = RCOLS[c], ROWS[r]
    ax = fig.add_axes(frect(x0, y0, x1, y1))
    draw(ax, p["x"], p["dmft"], p["ce"], p["scma"], p["xlim"], p["ylim"], tag=f"R{i}")
    style(ax, p["xlim"], p["ylim"], p["xt"], p["yt"], "left" if c == 0 else "right", 14)
    if c == 0:
        ax.spines["right"].set_color("black")
        ax.spines["right"].set_linewidth(0.8)
    else:
        ax.spines["left"].set_color("black")
        ax.spines["left"].set_linewidth(0.8)
    ax.text(0.025, 0.985, LEFT_LABELS[i], transform=ax.transAxes,
            ha="left", va="top", fontsize=15, zorder=10)
    if c == 0:
        ax.set_ylabel(r"$\mathrm{A}(\omega)$", fontsize=20)
        ax.yaxis.set_label_coords(-0.19, 0.5)
    if r == 3:
        ax.set_xlabel(r"$\omega$", fontsize=20)
        ax.xaxis.set_label_coords(0.5, -0.15)

if errors:
    raise ValueError("length mismatch: " + "; ".join(errors))

# ---------------------------------------------------------------- annotations
ybox = dict(boxstyle="square,pad=0.25", fc="yellow", ec="0.35", lw=1)
wbox = dict(boxstyle="square,pad=0.25", fc="white", ec="0.25", lw=1)
left_alpha_pos = [(331, 73), (314, 294), (315, 515), (314, 737)]
right_alpha_pos = [(930, 73), (930, 295), (930, 516), (930, 738)]
for a, (px, py) in zip(ALPHAS, left_alpha_pos):
    fig.text(px / W, 1 - py / H, r"$\alpha = %s$" % a, color="green", fontsize=17,
             ha="center", va="center", bbox=ybox)
for a, (px, py) in zip(ALPHAS, right_alpha_pos):
    fig.text(px / W, 1 - py / H, r"$\alpha = %s$" % a, color="green", fontsize=15,
             ha="center", va="center", bbox=ybox)
fig.text(302 / W, 1 - 385 / H, r"$k = 0$", fontsize=18, ha="center", va="center", bbox=wbox)
fig.text(930 / W, 1 - 342 / H, r"$k = \pi$", fontsize=15, ha="center", va="center", bbox=wbox)

handles = [
    Patch(facecolor=PEACH, edgecolor="0.55", label=LEGEND_LEFT[0]),
    Line2D([], [], color=BLUE, lw=4, label=LEGEND_LEFT[1]),
    Line2D([], [], color=RED, lw=3, linestyle=RED_LS, label=LEGEND_LEFT[2]),
    Line2D([], [], color="black", lw=1.8, linestyle=MA_LS, label=LEGEND_LEFT[3]),
]
fig.legend(handles=handles, loc="upper left", bbox_to_anchor=(258 / W, 1 - 142 / H),
           fontsize=10, handlelength=2.5, framealpha=0.85, borderpad=0.5, labelspacing=0.55)
fig.legend(handles=handles[:3], labels=LEGEND_RIGHT, loc="upper left",
           bbox_to_anchor=(862 / W, 1 - 100 / H),
           fontsize=9.5, handlelength=2.0, framealpha=0.85, borderpad=0.5, labelspacing=0.6)

fig.savefig("out.png", dpi=100)
